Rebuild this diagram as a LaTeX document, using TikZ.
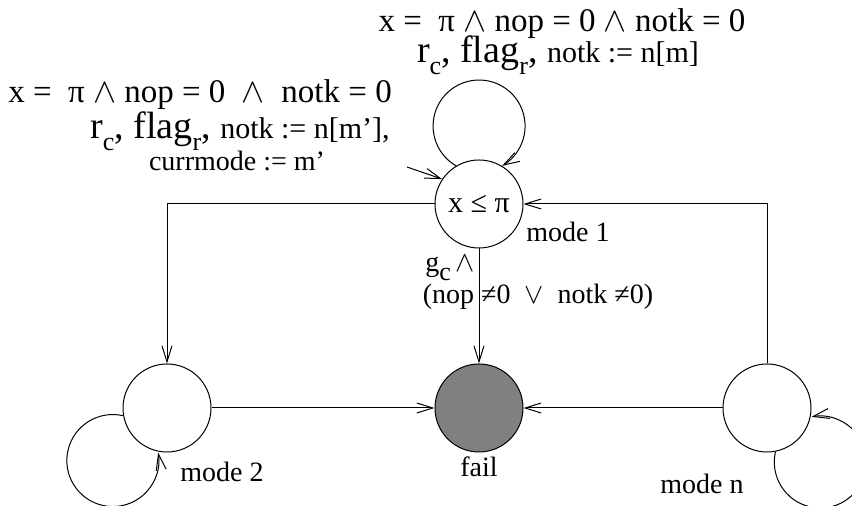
\documentclass[tikz,border=0pt]{standalone}
\usepackage{fontspec}
\setmainfont{Liberation Serif}
\usetikzlibrary{arrows.meta}
\tikzset{
  modestate/.style={draw, circle, minimum size=44pt, inner sep=0pt, line width=0.5pt},
  failstate/.style={modestate, fill=black!50},
  arr/.style={-{Straight Barb[length=8pt,width=5pt]}, line width=0.5pt},
  lbl/.style={inner sep=0pt, font=\fontsize{14}{16}\selectfont},
  guardlbl/.style={inner sep=0pt, font=\fontsize{16.5}{19}\selectfont},
  updlbl/.style={inner sep=0pt, font=\fontsize{19}{22}\selectfont}
}
\newcommand{\smallupd}[1]{{\fontsize{15}{17}\selectfont #1}}
\newcommand{\lowsub}[1]{\raisebox{-0.7ex}{\fontsize{13}{13}\selectfont #1}}

\begin{document}
\begin{tikzpicture}[x=0.5pt,y=0.5pt]
  \useasboundingbox (0,0) rectangle (852,506);
  % states
  \node[modestate] (m1) at (479,302) {\fontsize{15}{17}\selectfont x ≤ π};
  \node[modestate] (m2) at (167,98) {};
  \node[failstate] (fail) at (479,98) {};
  \node[modestate] (mn) at (767,98) {};
  \coordinate (init) at (407,339);
  % state labels
  \node[lbl] (m1lbl) at (568,274) {mode 1};
  \node[lbl] (m2lbl) at (222,34) {mode 2};
  \node[lbl] (faillbl) at (479,39) {fail};
  \node[lbl] (mnlbl) at (702,22) {mode n};
  % transitions
  \draw[arr] (m1.121.5) arc[start angle=240, end angle=-60, radius=46];
  \draw[arr] (m2.190) arc[start angle=77, end angle=370, radius=46];
  \draw[arr] (mn.281) arc[start angle=167, end angle=461, radius=46];
  \draw[arr] (init) -- (m1.146);
  \draw[arr] (m1.west) -| (m2.north);
  \draw[arr] (mn.north) |- (m1.east);
  \draw[arr] (m1) -- (fail);
  \draw[arr] (m2) -- (fail);
  \draw[arr] (mn) -- (fail);
  % guards and updates
  \node[guardlbl] (topguard) at (562,482) {x =\ \ π $\wedge$ nop = 0 $\wedge$ notk = 0};
  \node[updlbl] (topupd) at (558,451) {r\lowsub{c}, flag\lowsub{r}, \smallupd{notk := n[m]}};
  \node[guardlbl] (leftguard) at (200,411) {x =\ \ π $\wedge$ nop = 0\ \ $\wedge$\ \ notk = 0};
  \node[updlbl] (leftupd) at (240,375) {r\lowsub{c}, flag\lowsub{r}, \smallupd{notk := n[m’],}};
  \node[lbl] (leftcurr) at (237,345) {currmode := m’};
  \node[lbl] (failguard) at (450,238) {g\lowsub{c}\,$\wedge$};
  \node[lbl] (failcond) at (538,209) {(nop ≠0\ \ $\vee$\ \ notk ≠0)};
\end{tikzpicture}
\end{document}
